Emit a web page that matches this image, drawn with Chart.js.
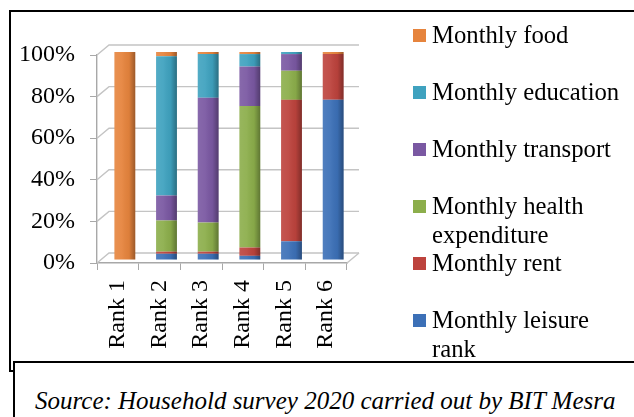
<!DOCTYPE html>
<html>
<head>
<meta charset="utf-8">
<script src="https://cdn.jsdelivr.net/npm/chart.js@4/dist/chart.umd.min.js"></script>
<style>
  html, body { margin: 0; padding: 0; background: #fff; }
  body { position: relative; width: 634px; height: 417px; overflow: hidden; font-family: "Liberation Serif", "Times New Roman", serif; }
  #frame { position: absolute; left: 9px; top: 10px; width: 700px; height: 358px; border: 2px solid #000; }
  #c { position: absolute; left: 0; top: 0; }
  #legend { position: absolute; left: 413px; top: 0; }
  .item { position: absolute; left: 0; width: 220px; font-size: 24.7px; line-height: 29px; color: #000; }
  .sw { position: absolute; left: 0; top: 9px; width: 13px; height: 13px; }
  .txt { margin-left: 19px; width: 196px; }
  #source { position: absolute; left: 13px; top: 361px; width: 700px; height: 100px; border: 2px solid #000; background: #fff; }
  #sourceText { position: absolute; left: 35px; top: 387px; font-size: 25px; line-height: 28px; font-style: italic; color: #000; white-space: nowrap; }
</style>
</head>
<body>
<div id="frame"></div>
<canvas id="c" width="634" height="417"></canvas>
<div id="legend"></div>
<div id="source"></div>
<div id="sourceText">Source: Household survey 2020 carried out by BIT Mesra</div>
<script>
// Categories (x axis)
const ranks = ['Rank 1', 'Rank 2', 'Rank 3', 'Rank 4', 'Rank 5', 'Rank 6'];

// Share of households (%) per rank, stacked bottom to top
const leisure   = [0,   3,  3,  2,  9, 77];
const rent      = [0,   1,  1,  4, 68, 22];
const health    = [0,  15, 14, 68, 14,  0];
const transport = [0,  12, 60, 19,  8,  0];
const education = [0,  67, 21,  6,  1,  0];
const food      = [100, 2,  1,  1,  0,  1];

// Series names, same order as the stack
const seriesNames = ['Monthly leisure rank', 'Monthly rent', 'Monthly health expenditure',
                     'Monthly transport', 'Monthly education', 'Monthly food'];
const seriesColors = ['#3C70B7', '#BD433D', '#8CAE4B', '#7A58A2', '#3FA2BF', '#E6843D'];
const seriesValues = [leisure, rent, health, transport, education, food];

// Percentage axis tick values
const yTicks = [0, 20, 40, 60, 80, 100];

const serif = "'Liberation Serif', 'Times New Roman', serif";
const axisGrey = '#a8a8a8';
const depth = { dx: 12, dy: 10 };   // back-wall offset of the pseudo-3D frame
const barShift = { dx: 7, dy: -3 }; // bars sit mid-depth inside the frame

const depthFrame = {
  id: 'depthFrame',
  beforeDatasetsDraw(chart) {
    const { ctx, chartArea: a, scales: { y } } = chart;
    ctx.save();
    ctx.strokeStyle = '#c4c4c4';
    ctx.lineWidth = 1.4;
    yTicks.forEach(v => {
      const py = y.getPixelForValue(v);
      ctx.beginPath();
      ctx.moveTo(a.left, py);
      ctx.lineTo(a.left + depth.dx, py - depth.dy);
      ctx.lineTo(a.right + depth.dx, py - depth.dy);
      ctx.stroke();
    });
    ctx.beginPath();
    ctx.moveTo(a.right, a.bottom);
    ctx.lineTo(a.right + depth.dx, a.bottom - depth.dy);
    ctx.stroke();
    ctx.restore();
    ctx.save();
    ctx.translate(barShift.dx, barShift.dy);
  },
  afterDatasetsDraw(chart) {
    const { ctx } = chart;
    // cylinder-like shading over every bar segment
    chart.data.datasets.forEach((ds, i) => {
      const meta = chart.getDatasetMeta(i);
      meta.data.forEach(bar => {
        const h = bar.base - bar.y;
        if (h <= 0.5) return;
        const l = bar.x - bar.width / 2, r = bar.x + bar.width / 2;
        const g = ctx.createLinearGradient(l, 0, r, 0);
        g.addColorStop(0, 'rgba(255,255,255,0.10)');
        g.addColorStop(0.35, 'rgba(255,255,255,0.06)');
        g.addColorStop(0.7, 'rgba(0,0,0,0.04)');
        g.addColorStop(1, 'rgba(0,0,0,0.32)');
        ctx.fillStyle = g;
        ctx.fillRect(l, bar.y, bar.width, h);
      });
    });
    ctx.restore();
  }
};

const chart = new Chart(document.getElementById('c'), {
  type: 'bar',
  data: {
    labels: ranks,
    datasets: seriesNames.map((name, i) => ({
      label: name,
      data: seriesValues[i],
      backgroundColor: seriesColors[i],
      borderWidth: 0,
      barPercentage: 0.5,
      categoryPercentage: 1.0
    }))
  },
  options: {
    responsive: false,
    animation: false,
    layout: { padding: { top: 55, right: 287, left: 0, bottom: 0 } },
    plugins: { legend: { display: false }, tooltip: { enabled: false } },
    scales: {
      x: {
        stacked: true,
        grid: { drawOnChartArea: false, tickLength: 7, offset: true, color: axisGrey },
        border: { color: axisGrey, width: 1.4 },
        ticks: { minRotation: 90, maxRotation: 90, padding: 10, color: '#000', font: { family: serif, size: 24 } },
        afterFit(scale) { scale.height = 154; }
      },
      y: {
        stacked: true,
        min: 0, max: 100,
        afterBuildTicks(scale) { scale.ticks = yTicks.map(v => ({ value: v })); },
        grid: { drawOnChartArea: false, tickLength: 7, color: axisGrey },
        border: { color: axisGrey, width: 1.4 },
        ticks: { padding: 15, color: '#000', font: { family: serif, size: 24 }, callback: v => v + '%' },
        afterFit(scale) { scale.width = 97; }
      }
    }
  },
  plugins: [depthFrame]
});

// Legend lists the series from the top of the stack downwards
const legend = document.getElementById('legend');
chart.data.datasets.slice().reverse().forEach((ds, i) => {
  const item = document.createElement('div');
  item.className = 'item';
  item.style.top = (19.5 + i * 57) + 'px';
  const sw = document.createElement('span');
  sw.className = 'sw';
  sw.style.background = ds.backgroundColor;
  const txt = document.createElement('div');
  txt.className = 'txt';
  txt.textContent = ds.label;
  item.appendChild(sw);
  item.appendChild(txt);
  legend.appendChild(item);
});
</script>
</body>
</html>
